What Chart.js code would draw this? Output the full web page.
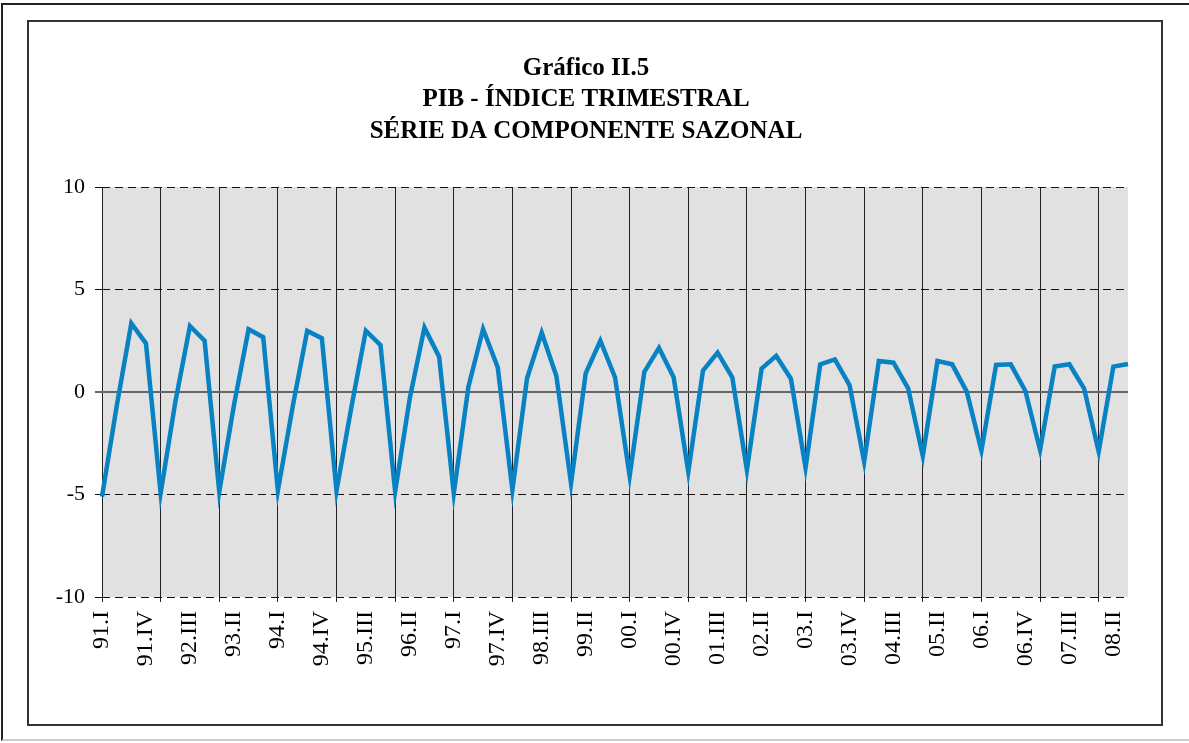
<!DOCTYPE html>
<html lang="pt">
<head>
<meta charset="utf-8">
<title>PIB - Índice trimestral - componente sazonal</title>
<script src="https://cdn.jsdelivr.net/npm/chart.js@4/dist/chart.umd.min.js"></script>
<style>
  body { margin: 0; background: #fff; width: 1189px; height: 743px; overflow: hidden; position: relative; }
  .outer { position: absolute; left: 1px; top: 3px; width: 1200px; height: 738px; box-sizing: border-box;
           border-top: 2px solid #222; border-left: 2px solid #222; border-bottom: 2px solid #ccc; }
  .inner { position: absolute; left: 27px; top: 20px; width: 1136px; height: 706px; box-sizing: border-box;
           border: 2px solid #333; }
  .wrap { position: absolute; left: 0; top: 0; width: 1132px; height: 702px; }
</style>
</head>
<body>
<div class="outer"></div>
<div class="inner">
  <div class="wrap"><canvas id="chart"></canvas></div>
</div>
<script>
// ===== DATA =====
const years = ["91", "92", "93", "94", "95", "96", "97", "98", "99",
               "00", "01", "02", "03", "04", "05", "06", "07", "08"];
const quarterNames = ["I", "II", "III", "IV"];

// componente sazonal, 91.I ... 08.III
const componenteSazonal = [
  -5.10, -0.70, 3.35, 2.37,   // 91
  -4.94, -0.50, 3.22, 2.50,   // 92
  -4.86, -0.65, 3.06, 2.67,   // 93
  -4.81, -0.75, 2.98, 2.62,   // 94
  -4.81, -0.80, 2.99, 2.29,   // 95
  -4.86, -0.30, 3.14, 1.72,   // 96
  -4.94, 0.26, 3.07, 1.20,    // 97
  -4.78, 0.67, 2.89, 0.78,    // 98
  -4.46, 0.91, 2.50, 0.72,    // 99
  -4.10, 0.98, 2.15, 0.72,    // 00
  -3.89, 1.04, 1.92, 0.72,    // 01
  -3.80, 1.14, 1.76, 0.65,    // 02
  -3.69, 1.35, 1.59, 0.34,    // 03
  -3.40, 1.51, 1.43, 0.18,    // 04
  -3.12, 1.51, 1.35, 0.02,    // 05
  -2.86, 1.32, 1.35, 0.05,    // 06
  -2.83, 1.24, 1.35, 0.18,    // 07
  -2.91, 1.24, 1.37           // 08
];

// quarter labels "91.I", "91.II", ...
const quarters = [];
years.forEach(y => quarterNames.forEach(q => quarters.push(y + "." + q)));
quarters.length = componenteSazonal.length;

const titleLines = ["Gráfico II.5", "PIB - ÍNDICE TRIMESTRAL", "SÉRIE DA COMPONENTE SAZONAL"];
const yTicks = [-10, -5, 0, 5, 10];

// gray plot area
const plotBackground = {
  id: "plotBackground",
  beforeDraw(chart) {
    const a = chart.chartArea;
    const c = chart.ctx;
    c.save();
    c.fillStyle = "#e1e1e1";
    c.fillRect(a.left, a.top, a.right - a.left, a.bottom - a.top);
    c.restore();
  }
};

const serif = "'Liberation Serif', 'Times New Roman', serif";

new Chart(document.getElementById("chart"), {
  type: "line",
  data: {
    labels: quarters,
    datasets: [{
      data: componenteSazonal,
      borderColor: "#0882c2",
      borderWidth: 4.5,
      pointRadius: 0,
      tension: 0,
      borderJoinStyle: "miter",
      fill: false
    }]
  },
  plugins: [plotBackground],
  options: {
    responsive: true,
    maintainAspectRatio: false,
    animation: false,
    layout: { padding: { left: 15, right: 33, top: 0, bottom: 0 } },
    plugins: {
      legend: { display: false },
      tooltip: { enabled: false },
      title: {
        display: true,
        text: titleLines,
        color: "#000",
        font: { family: serif, size: 25, weight: "bold", lineHeight: 1.25 },
        padding: { top: 31, bottom: 40.25 }
      }
    },
    scales: {
      x: {
        type: "category",
        offset: false,
        border: { display: false },
        grid: {
          color: ctx => (ctx.index % 4 === 0 ? "#222" : "rgba(0,0,0,0)"),
          lineWidth: 1,
          drawTicks: true,
          tickLength: 5
        },
        ticks: {
          autoSkip: false,
          maxRotation: 90,
          minRotation: 90,
          padding: 9,
          color: "#000",
          font: { family: serif, size: 24 },
          callback: function (value, index) {
            return index % 3 === 0 ? this.getLabelForValue(value) : "";
          }
        },
        afterFit: scale => {
          scale.height = 127;
          scale.paddingLeft = 0;
          scale.paddingRight = 0;
        }
      },
      y: {
        min: -10,
        max: 10,
        afterBuildTicks: scale => { scale.ticks = yTicks.map(v => ({ value: v })); },
        border: {
          display: false,
          dash: ctx => (ctx.tick && ctx.tick.value === 0 ? [] : [8, 5])
        },
        grid: {
          color: ctx => (ctx.tick && ctx.tick.value === 0 ? "#666" : "#111"),
          lineWidth: ctx => (ctx.tick && ctx.tick.value === 0 ? 2 : 1),
          tickLength: 7
        },
        ticks: {
          padding: 10,
          color: "#000",
          font: { family: serif, size: 22 }
        },
        afterFit: scale => { scale.width = 58; }
      }
    }
  }
});
</script>
</body>
</html>
